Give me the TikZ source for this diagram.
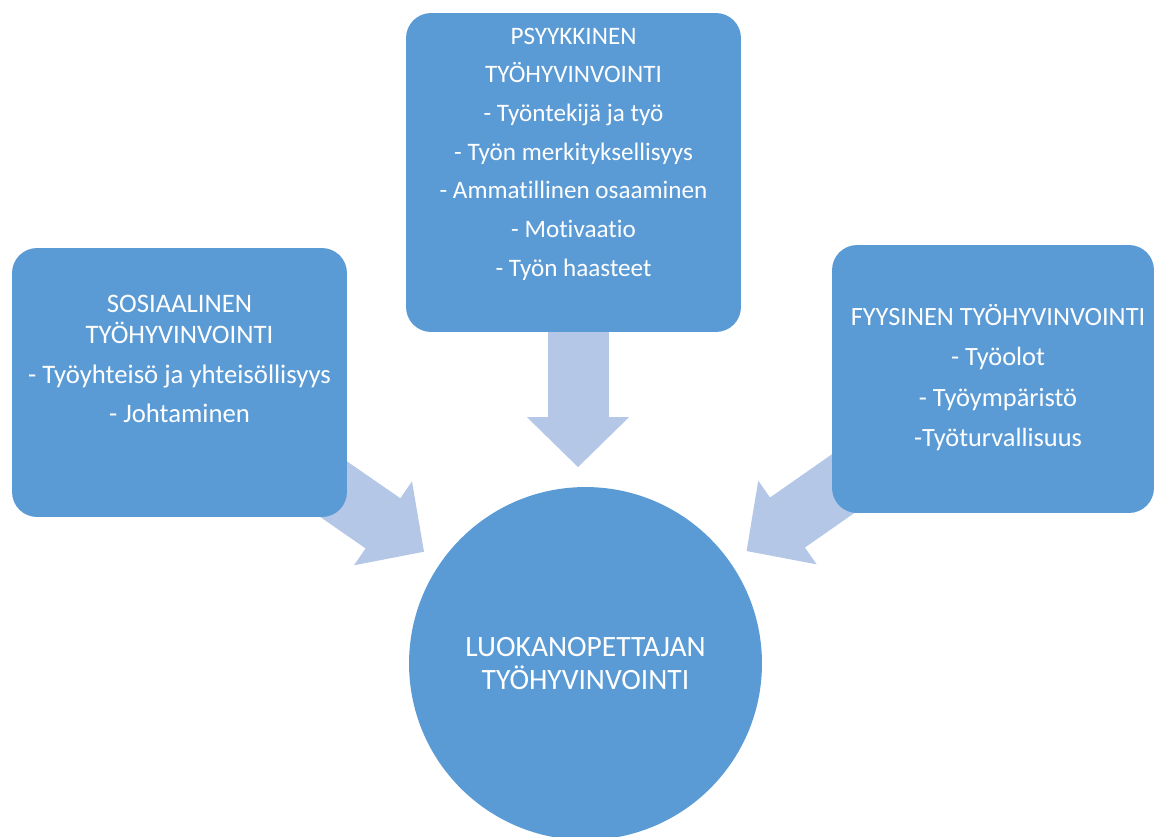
\documentclass[tikz,border=0pt]{standalone}
\usepackage{fontspec}
\setmainfont{Carlito}[Ligatures=NoCommon]
\usepackage{tikz}
\usetikzlibrary{arrows.meta,backgrounds,positioning}
\definecolor{boxblue}{HTML}{5B9BD5}
\definecolor{arrowblue}{HTML}{B4C7E7}
\tikzset{
  areabox/.style={fill=boxblue,rounded corners=0.5cm,minimum width=6.7cm},
  areatext/.style={text=white,align=center,font=\fontsize{14.3}{22}\selectfont},
  flow/.style={arrowblue,line width=1.22cm,-{Triangle[length=1cm,width=1.98cm]},shorten >=0.39cm},
}

\begin{document}
\begin{tikzpicture}[x=0.02cm,y=-0.02cm]
\useasboundingbox (0,0) rectangle (1155,836);

\node[areabox,minimum height=6.38cm] (psych) at (573.5,172.5) {};
\node[areabox,minimum height=5.38cm] (social) at (179.5,382.5) {};
\node[areabox,minimum width=6.44cm,minimum height=5.36cm] (phys) at (993,379) {};
\node[circle,fill=boxblue,minimum size=7.06cm,inner sep=0pt,text=white,align=center,
  font=\fontsize{16.8}{18.7}\selectfont] (hub) at (585.5,663.5) {LUOKANOPETTAJAN\\TYÖHYVINVOINTI};

\node[areatext] (psych text) at ([yshift=0.37cm]psych.center)
  {PSYYKKINEN\\TYÖHYVINVOINTI\\- Työntekijä ja työ\\- Työn merkityksellisyys\\- Ammatillinen osaaminen\\- Motivaatio\\- Työn haasteet};
\node[areatext,font=\fontsize{15.2}{22.5}\selectfont] (social text) at ([yshift=0.47cm]social.center)
  {SOSIAALINEN\\[-4.5pt]TYÖHYVINVOINTI\\- Työyhteisö ja yhteisöllisyys\\- Johtaminen};
\node[areatext,font=\fontsize{15}{22.5}\selectfont] (phys text) at ([xshift=0.1cm,yshift=0.03cm]phys.center)
  {FYYSINEN TYÖHYVINVOINTI\\[0.5pt]- Työolot\\[0.5pt]- Työympäristö\\[0.5pt]-Työturvallisuus};

\begin{scope}[on background layer]
\draw[flow] ([xshift=0.09cm]psych.south) -- ([xshift=0.09cm]psych.south |- hub.north);
\draw[flow] (social.center) -- (hub);
\draw[flow] (phys.center) -- (hub);
\end{scope}
\end{tikzpicture}
\end{document}
